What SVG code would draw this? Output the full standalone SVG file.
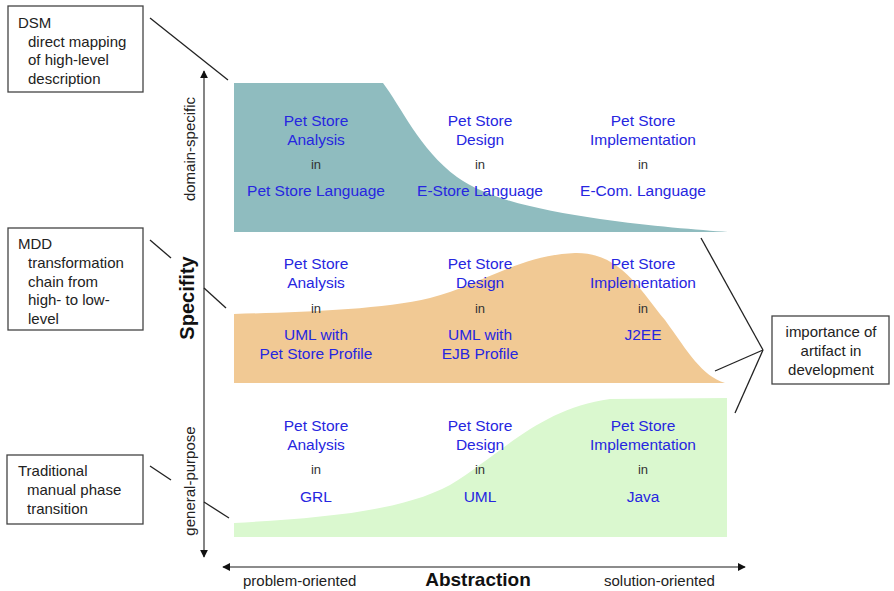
<svg xmlns="http://www.w3.org/2000/svg" width="894" height="591" viewBox="0 0 894 591">
  <style>
    .box { fill: #ffffff; stroke: #444444; stroke-width: 1.3; }
    .note { font-family: "Liberation Sans", Arial, sans-serif; font-size: 15px; fill: #222222; }
    .cell { font-family: "Liberation Sans", Arial, sans-serif; font-size: 15.5px; fill: #2626e0; text-anchor: middle; }
    .in { font-family: "Liberation Sans", Arial, sans-serif; font-size: 13px; fill: #333333; text-anchor: middle; }
    .axis-label { font-family: "Liberation Sans", Arial, sans-serif; font-size: 15px; fill: #222222; }
    .axis-title { font-family: "Liberation Sans", Arial, sans-serif; font-weight: bold; fill: #111111; text-anchor: middle; }
    .link { stroke: #222222; stroke-width: 1.3; fill: none; }
    .axis { stroke: #666666; stroke-width: 1.6; fill: none; }
  </style>
  <defs>
    <marker id="arrow" viewBox="0 0 10 10" refX="9" refY="5" markerWidth="5" markerHeight="5" orient="auto-start-reverse" markerUnits="strokeWidth">
      <path d="M0,0 L10,5 L0,10 Z" fill="#111111"/>
    </marker>
  </defs>

  <rect width="894" height="591" fill="#ffffff"/>

  <!-- importance bands -->
  <g id="band-domain-specific">
    <path d="M234,83 L383,83 C400,105 420,150 457,177 C490,200 540,210 600,219 C650,226 700,230 728,232 L234,232 Z" fill="#8fbcbf"/>
  </g>
  <g id="band-mdd">
    <path d="M234,314 C300,312 380,310 430,298 C480,285 520,255 575,253 C620,252 640,290 665,320 C688,352 702,376 725,383 L234,383 Z" fill="#f1c994"/>
  </g>
  <g id="band-general-purpose">
    <path d="M234,523 C320,518 400,512 450,485 C500,455 540,408 610,399 L727,398 L727,537 L234,537 Z" fill="#daf8cf"/>
  </g>

  <!-- axes -->
  <g id="axes">
    <line class="axis" x1="204" y1="557" x2="204" y2="71" marker-end="url(#arrow)" marker-start="url(#arrow)"/>
    <line class="axis" x1="223" y1="567" x2="745" y2="567" marker-end="url(#arrow)" marker-start="url(#arrow)"/>
    <text class="axis-label" text-anchor="middle" transform="translate(195,149) rotate(-90)">domain-specific</text>
    <text class="axis-title" font-size="20" transform="translate(194,298) rotate(-90)">Specifity</text>
    <text class="axis-label" text-anchor="middle" transform="translate(195,481) rotate(-90)">general-purpose</text>
    <text class="axis-label" x="243" y="586">problem-oriented</text>
    <text class="axis-title" font-size="19" x="478" y="586">Abstraction</text>
    <text class="axis-label" x="604" y="586">solution-oriented</text>
  </g>

  <!-- connectors -->
  <g id="connectors">
    <line class="link" x1="150" y1="18" x2="228" y2="80"/>
    <line class="link" x1="150" y1="240" x2="171" y2="258"/>
    <line class="link" x1="204" y1="288" x2="226" y2="308"/>
    <line class="link" x1="150" y1="466" x2="171" y2="480"/>
    <line class="link" x1="204" y1="502" x2="229" y2="518"/>
    <line class="link" x1="701" y1="238" x2="763" y2="350"/>
    <line class="link" x1="715" y1="371" x2="763" y2="350"/>
    <line class="link" x1="735" y1="413" x2="763" y2="350"/>
  </g>

  <!-- notes -->
  <g id="note-dsm">
    <rect class="box" x="8" y="6" width="135" height="86"/>
    <text class="note" x="18" y="28">DSM</text>
    <text class="note" x="28" y="47">direct mapping</text>
    <text class="note" x="28" y="65">of high-level</text>
    <text class="note" x="28" y="84">description</text>
  </g>
  <g id="note-mdd">
    <rect class="box" x="8" y="228" width="135" height="102"/>
    <text class="note" x="18" y="249">MDD</text>
    <text class="note" x="28" y="268">transformation</text>
    <text class="note" x="28" y="287">chain from</text>
    <text class="note" x="28" y="305">high- to low-</text>
    <text class="note" x="28" y="324">level</text>
  </g>
  <g id="note-traditional">
    <rect class="box" x="7" y="455" width="136" height="69"/>
    <text class="note" x="18" y="476">Traditional</text>
    <text class="note" x="27" y="495">manual phase</text>
    <text class="note" x="27" y="514">transition</text>
  </g>
  <g id="note-importance">
    <rect class="box" x="772" y="316" width="117" height="68"/>
    <text class="note" text-anchor="middle" x="831" y="337">importance of</text>
    <text class="note" text-anchor="middle" x="831" y="356">artifact in</text>
    <text class="note" text-anchor="middle" x="831" y="375">development</text>
  </g>

  <!-- domain-specific row -->
  <g id="cell-ds-analysis">
    <text class="cell" x="316" y="126">Pet Store</text>
    <text class="cell" x="316" y="145">Analysis</text>
    <text class="in" x="316" y="169">in</text>
    <text class="cell" x="316" y="196">Pet Store Language</text>
  </g>
  <g id="cell-ds-design">
    <text class="cell" x="480" y="126">Pet Store</text>
    <text class="cell" x="480" y="145">Design</text>
    <text class="in" x="480" y="169">in</text>
    <text class="cell" x="480" y="196">E-Store Language</text>
  </g>
  <g id="cell-ds-implementation">
    <text class="cell" x="643" y="126">Pet Store</text>
    <text class="cell" x="643" y="145">Implementation</text>
    <text class="in" x="643" y="169">in</text>
    <text class="cell" x="643" y="196">E-Com. Language</text>
  </g>

  <!-- MDD row -->
  <g id="cell-mdd-analysis">
    <text class="cell" x="316" y="269">Pet Store</text>
    <text class="cell" x="316" y="288">Analysis</text>
    <text class="in" x="316" y="313">in</text>
    <text class="cell" x="316" y="340">UML with</text>
    <text class="cell" x="316" y="359">Pet Store Profile</text>
  </g>
  <g id="cell-mdd-design">
    <text class="cell" x="480" y="269">Pet Store</text>
    <text class="cell" x="480" y="288">Design</text>
    <text class="in" x="480" y="313">in</text>
    <text class="cell" x="480" y="340">UML with</text>
    <text class="cell" x="480" y="359">EJB Profile</text>
  </g>
  <g id="cell-mdd-implementation">
    <text class="cell" x="643" y="269">Pet Store</text>
    <text class="cell" x="643" y="288">Implementation</text>
    <text class="in" x="643" y="313">in</text>
    <text class="cell" x="643" y="340">J2EE</text>
  </g>

  <!-- general-purpose row -->
  <g id="cell-gp-analysis">
    <text class="cell" x="316" y="431">Pet Store</text>
    <text class="cell" x="316" y="450">Analysis</text>
    <text class="in" x="316" y="474">in</text>
    <text class="cell" x="316" y="502">GRL</text>
  </g>
  <g id="cell-gp-design">
    <text class="cell" x="480" y="431">Pet Store</text>
    <text class="cell" x="480" y="450">Design</text>
    <text class="in" x="480" y="474">in</text>
    <text class="cell" x="480" y="502">UML</text>
  </g>
  <g id="cell-gp-implementation">
    <text class="cell" x="643" y="431">Pet Store</text>
    <text class="cell" x="643" y="450">Implementation</text>
    <text class="in" x="643" y="474">in</text>
    <text class="cell" x="643" y="502">Java</text>
  </g>
</svg>
